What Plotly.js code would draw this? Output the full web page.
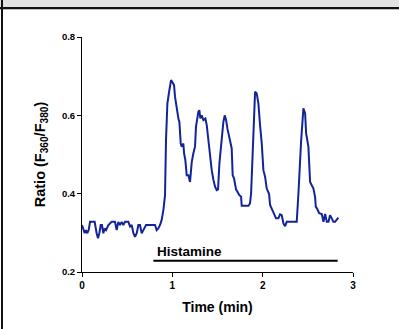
<!DOCTYPE html>
<html>
<head>
<meta charset="utf-8">
<script src="https://cdn.plot.ly/plotly-3.0.1.min.js"></script>
<style>
  body { margin: 0; background: #fff; }
  #wrap { position: relative; width: 399px; height: 329px; overflow: hidden; }
  #chart { position: absolute; left: 0; top: 0; width: 399px; height: 329px; }
  .band { position: absolute; left: 0; top: 0; width: 399px; height: 7px; background: #e2e2e2; }
  .hline { position: absolute; left: 0; top: 7px; width: 399px; height: 2px; background: #111; }
  .hline2 { position: absolute; left: 0; top: 9px; width: 399px; height: 1px; background: #bbb; }
  .vline { position: absolute; left: 1px; top: 0; width: 2px; height: 329px; background: #111; }
</style>
</head>
<body>
<div id="wrap">
  <div id="chart"></div>
  <div class="band"></div>
  <div class="hline"></div>
  <div class="hline2"></div>
  <div class="vline"></div>
</div>
<script>
// Time (min)
const time = [
  0.000, 0.015, 0.030, 0.044, 0.059, 0.074, 0.089, 0.118, 0.140, 0.162,
  0.177, 0.192, 0.207, 0.221, 0.236, 0.251, 0.266, 0.292, 0.328, 0.365,
  0.384, 0.402, 0.421, 0.439, 0.458, 0.476, 0.513, 0.532, 0.550, 0.569,
  0.587, 0.606, 0.624, 0.642, 0.661, 0.679, 0.709, 0.735, 0.771, 0.808,
  0.827, 0.845, 0.864, 0.882, 0.901, 0.919, 0.930, 0.945, 0.967, 0.986,
  1.004, 1.019, 1.030, 1.048, 1.067, 1.078, 1.093, 1.104, 1.122, 1.130,
  1.144, 1.159, 1.178, 1.196, 1.215, 1.233, 1.251, 1.262, 1.277, 1.288,
  1.299, 1.310, 1.325, 1.344, 1.366, 1.381, 1.399, 1.417, 1.436, 1.455,
  1.473, 1.491, 1.506, 1.521, 1.547, 1.565, 1.580, 1.595, 1.610, 1.632,
  1.657, 1.668, 1.683, 1.705, 1.724, 1.742, 1.761, 1.768, 1.842, 1.860,
  1.872, 1.886, 1.897, 1.916, 1.934, 1.953, 1.971, 1.990, 2.008, 2.027,
  2.045, 2.063, 2.071, 2.082, 2.100, 2.119, 2.137, 2.148, 2.174, 2.193,
  2.211, 2.230, 2.248, 2.267, 2.303, 2.340, 2.377, 2.396, 2.414, 2.425,
  2.451, 2.470, 2.481, 2.506, 2.525, 2.544, 2.562, 2.580, 2.588, 2.606,
  2.625, 2.654, 2.673, 2.691, 2.710, 2.728, 2.746, 2.765, 2.783, 2.802,
  2.821, 2.838
];
// Ratio F360/F380
const ratio = [
  0.320, 0.311, 0.299, 0.307, 0.299, 0.307, 0.328, 0.328, 0.328, 0.299,
  0.286, 0.299, 0.320, 0.320, 0.299, 0.311, 0.307, 0.320, 0.328, 0.328,
  0.307, 0.328, 0.320, 0.328, 0.320, 0.328, 0.328, 0.316, 0.320, 0.299,
  0.290, 0.299, 0.320, 0.320, 0.299, 0.307, 0.320, 0.320, 0.320, 0.320,
  0.307, 0.311, 0.320, 0.333, 0.358, 0.396, 0.537, 0.630, 0.664, 0.690,
  0.683, 0.677, 0.647, 0.613, 0.592, 0.583, 0.528, 0.520, 0.528, 0.503,
  0.486, 0.447, 0.447, 0.430, 0.481, 0.503, 0.520, 0.571, 0.600, 0.609,
  0.613, 0.592, 0.600, 0.588, 0.592, 0.575, 0.537, 0.494, 0.460, 0.435,
  0.418, 0.409, 0.411, 0.477, 0.545, 0.583, 0.600, 0.588, 0.566, 0.541,
  0.516, 0.447, 0.439, 0.411, 0.401, 0.396, 0.392, 0.369, 0.369, 0.375,
  0.401, 0.486, 0.588, 0.660, 0.656, 0.630, 0.575, 0.528, 0.460, 0.443,
  0.413, 0.405, 0.399, 0.371, 0.362, 0.351, 0.345, 0.337, 0.337, 0.347,
  0.345, 0.324, 0.317, 0.328, 0.328, 0.328, 0.328, 0.401, 0.486, 0.532,
  0.618, 0.605, 0.554, 0.520, 0.430, 0.422, 0.413, 0.392, 0.367, 0.360,
  0.350, 0.348, 0.328, 0.348, 0.328, 0.328, 0.345, 0.337, 0.328, 0.328,
  0.333, 0.339
];
// Histamine application bar
const histTime = [0.79, 2.83];
const histLevel = [0.229, 0.229];
const histLabel = "Histamine";
const xTicks = [0, 1, 2, 3];
const yTicks = [0.2, 0.4, 0.6, 0.8];

const fontFam = "Liberation Sans, Arial, sans-serif";

const traces = [
  {
    x: time, y: ratio, type: "scatter", mode: "lines",
    line: { color: "#13249b", width: 2 },
    hoverinfo: "skip", cliponaxis: false
  },
  {
    x: histTime, y: histLevel, type: "scatter", mode: "lines",
    line: { color: "#000", width: 2 },
    hoverinfo: "skip"
  }
];

const layout = {
  width: 399, height: 329,
  margin: { l: 82, r: 46, t: 37, b: 57 },
  paper_bgcolor: "#fff", plot_bgcolor: "#fff",
  showlegend: false,
  font: { family: fontFam, color: "#000" },
  xaxis: {
    range: [0, 3], tickvals: xTicks, ticktext: xTicks.map(String),
    showgrid: false, zeroline: false,
    showline: true, linecolor: "#000", linewidth: 1,
    ticks: "outside", ticklen: 4, tickwidth: 1, tickcolor: "#000",
    tickfont: { family: fontFam, size: 10, weight: "bold" },
    title: { text: "<b>Time (min)</b>", font: { family: fontFam, size: 14 }, standoff: 12 }
  },
  yaxis: {
    range: [0.2, 0.8], tickvals: yTicks, ticktext: yTicks.map(v => v.toFixed(1)),
    showgrid: false, zeroline: false,
    showline: true, linecolor: "#000", linewidth: 1,
    ticks: "outside", ticklen: 4, tickwidth: 1, tickcolor: "#000",
    tickfont: { family: fontFam, size: 9.5, weight: "bold" },
    title: { text: "<b>Ratio (F<sub>360</sub>/F<sub>380</sub>)</b>", font: { family: fontFam, size: 14.5 }, standoff: 12 }
  },
  annotations: [
    {
      x: histTime[0], y: histLevel[0], xref: "x", yref: "y",
      text: "<b>" + histLabel + "</b>", showarrow: false,
      xanchor: "left", yanchor: "bottom", xshift: 2, yshift: 0,
      font: { family: fontFam, size: 13.5, color: "#000" }
    }
  ]
};

Plotly.newPlot("chart", traces, layout, { displayModeBar: false, staticPlot: true });
</script>
</body>
</html>
